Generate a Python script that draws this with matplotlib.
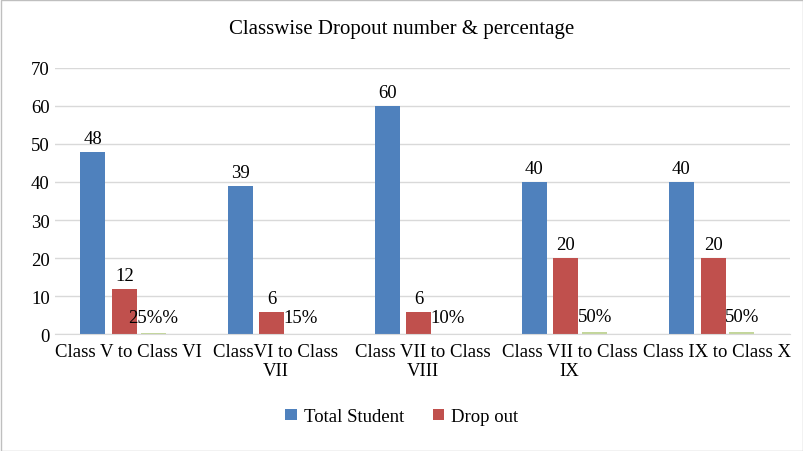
import matplotlib
matplotlib.use("Agg")
import matplotlib.pyplot as plt
import numpy as np

categories = ["Class V to Class VI", "ClassVI to Class\nVII", "Class VII to Class\nVIII",
              "Class VII to Class\nIX", "Class IX to Class X"]
total_student = [48, 39, 60, 40, 40]
drop_out = [12, 6, 6, 20, 20]
pct_values = [0.25, 0.15, 0.10, 0.5, 0.5]
pct_labels = ["25%%", "15%", "10%", "50%", "50%"]

plt.rcParams['font.family'] = ['Liberation Serif', 'DejaVu Serif']
fig = plt.figure(figsize=(8.04, 4.52), dpi=100)
ax = fig.add_axes([0.068, 0.258, 0.915, 0.59])
x = np.arange(len(categories))
w = 0.17
b1 = ax.bar(x - 0.24, total_student, w, color='#4F81BD', label='Total Student')
b2 = ax.bar(x - 0.025, drop_out, w, color='#C0504D', label='Drop out')
b3 = ax.bar(x + 0.17, pct_values, w, color='#C3D69B')
fs = 13.5
for r, v in zip(b1, total_student):
    ax.text(r.get_x() + r.get_width()/2, v + 1.3, str(v), ha='center', va='bottom', fontsize=fs)
for r, v in zip(b2, drop_out):
    ax.text(r.get_x() + r.get_width()/2, v + 1.3, str(v), ha='center', va='bottom', fontsize=fs)
for r, v, l in zip(b3, pct_values, pct_labels):
    ax.text(r.get_x() + r.get_width()/2, v + 2.0, l, ha='center', va='bottom', fontsize=fs)
ax.set_ylim(0, 70)
ax.set_xlim(-0.5, len(categories) - 0.5)
ax.set_yticks(range(0, 71, 10))
ax.set_xticks(x)
ax.set_xticklabels(categories, fontsize=fs)
ax.tick_params(axis='y', labelsize=fs, length=0)
ax.tick_params(axis='x', length=0, pad=6)
ax.yaxis.grid(True, color='#D9D9D9', linewidth=1)
ax.set_axisbelow(True)
for s in ['top', 'right', 'left']:
    ax.spines[s].set_visible(False)
ax.spines['bottom'].set_color('#D9D9D9')
fig.text(0.5, 0.925, "Classwise Dropout number & percentage", ha='center', fontsize=15)
fig.legend(handles=[b1, b2], loc='lower center', bbox_to_anchor=(0.5, 0.02), ncol=2,
           frameon=False, fontsize=fs, handlelength=0.6, handleheight=0.6,
           handletextpad=0.4, columnspacing=1.5)
fig.patches.append(plt.Rectangle((0.001, 0.001), 0.998, 0.997, transform=fig.transFigure,
                                 fill=False, edgecolor='#BFBFBF', linewidth=1))
fig.savefig("out.png", dpi=100)
